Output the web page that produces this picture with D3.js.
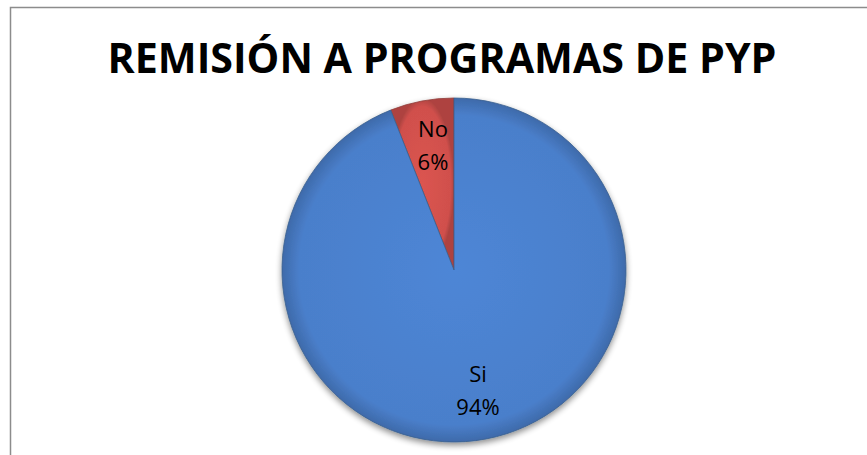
<!DOCTYPE html>
<html><head><meta charset="utf-8">
<script src="https://cdn.jsdelivr.net/npm/d3@7"></script>
<style>html,body{margin:0;padding:0;background:#fff;}</style>
</head><body>
<svg id="chart" width="867" height="455"></svg>
<script>
const title = "REMISIÓN A PROGRAMAS DE PYP";
const categories = ["No", "Si"];
const values = [6, 94];
const colors = ["#C0504D", "#4F81BD"];

const svg = d3.select("#chart");
const W = 867, H = 455;
svg.append("rect").attr("x",0).attr("y",0).attr("width",W).attr("height",H).attr("fill","#fff");
svg.append("path").attr("d","M10.5,455 L10.5,7.5 L867,7.5").attr("fill","none").attr("stroke","#8c8c8c").attr("stroke-width",1.5);

const t = svg.append("text").attr("x",442).attr("y",73).attr("text-anchor","middle")
  .attr("font-family","'Open Sans', 'Liberation Sans', sans-serif").attr("font-weight","bold")
  .attr("font-size",41).attr("fill","#000").text(title);
t.attr("textLength",669).attr("lengthAdjust","spacingAndGlyphs");

const cx = 454, cy = 270, r = 172;
const defs = svg.append("defs");
const mkGrad = (id, c) => {
  const g = defs.append("radialGradient").attr("id",id).attr("cx","50%").attr("cy","50%").attr("r","50%");
  g.append("stop").attr("offset","0%").attr("stop-color",d3.color(c).brighter(0.15));
  g.append("stop").attr("offset","90%").attr("stop-color",c);
  g.append("stop").attr("offset","100%").attr("stop-color",d3.color(c).darker(0.5));
};
mkGrad("g0", "#D0504C");
mkGrad("g1", "#4A7FCB");
const f = defs.append("filter").attr("id","sh").attr("x","-20%").attr("y","-20%").attr("width","140%").attr("height","140%");
f.append("feGaussianBlur").attr("in","SourceAlpha").attr("stdDeviation",3);
f.append("feOffset").attr("dx",0).attr("dy",3).attr("result","b");
f.append("feComponentTransfer").append("feFuncA").attr("type","linear").attr("slope",0.45);
const fm = f.append("feMerge"); fm.append("feMergeNode"); fm.append("feMergeNode").attr("in","SourceGraphic");

const pie = d3.pie().sort(null).value(d=>d.v).startAngle(-2*Math.PI*values[0]/100).endAngle(2*Math.PI - 2*Math.PI*values[0]/100);
const data = categories.map((c,i)=>({c, v:values[i], i}));
const arcs = pie(data);
const arc = d3.arc().innerRadius(0).outerRadius(r);
const g = svg.append("g").attr("transform",`translate(${cx},${cy})`).attr("filter","url(#sh)");
g.selectAll("path").data(arcs).join("path").attr("d",arc)
  .attr("fill",d=>`url(#g${d.data.i})`).attr("stroke",d=>d3.color(colors[d.data.i]).darker(0.8)).attr("stroke-width",0.8);

const labelPos = [[433,137],[478,382]];
const lg = svg.append("g");
arcs.forEach((d,k)=>{
  const [x,y] = labelPos[k];
  const tt = lg.append("text").attr("x",x).attr("y",y).attr("text-anchor","middle")
    .attr("font-family","'Open Sans', 'Liberation Sans', sans-serif").attr("font-size",22).attr("fill","#000");
  tt.append("tspan").attr("x",x).attr("dy",0).text(d.data.c);
  tt.append("tspan").attr("x",x).attr("dy",32.5).text(d.data.v + "%");
});
</script>
</body></html>
